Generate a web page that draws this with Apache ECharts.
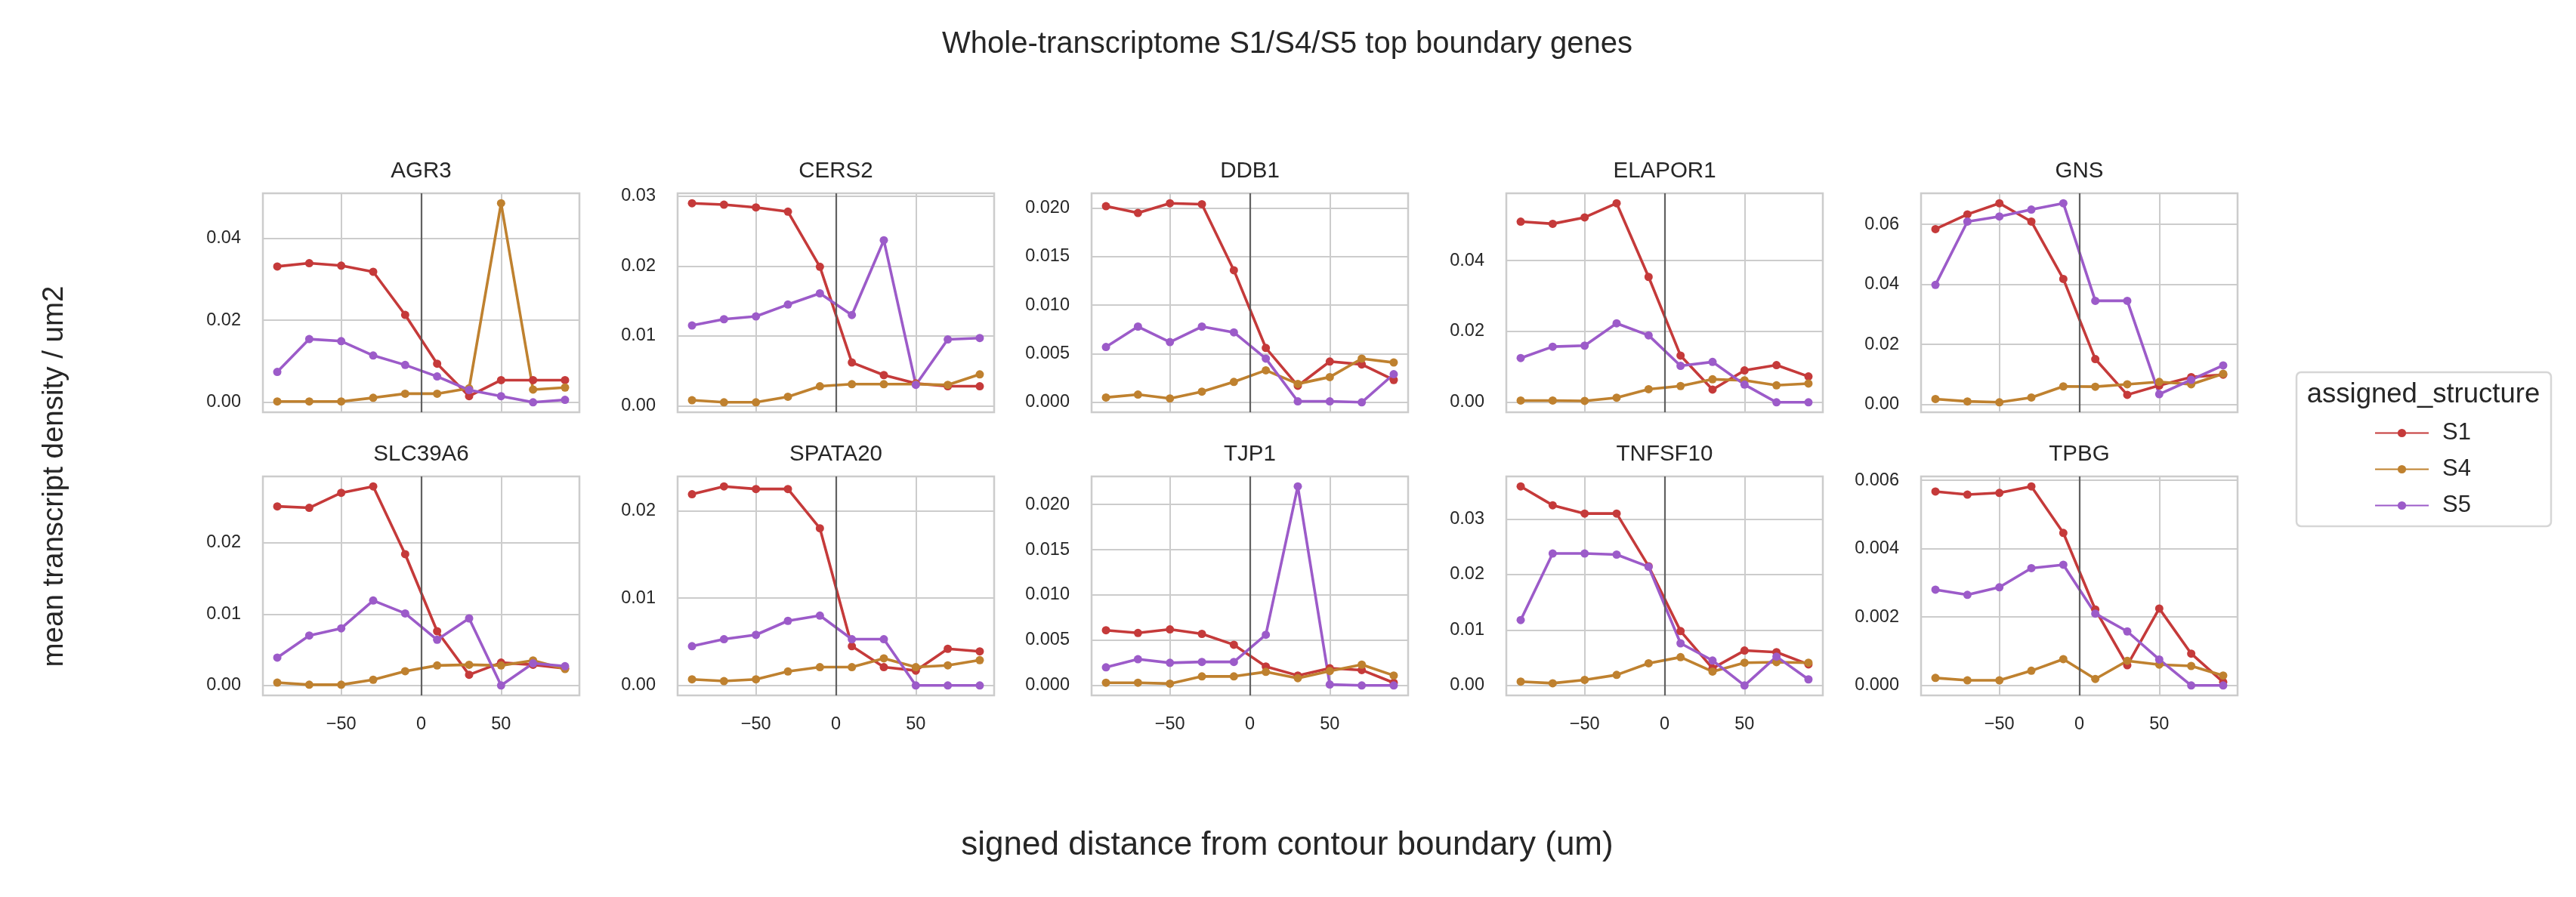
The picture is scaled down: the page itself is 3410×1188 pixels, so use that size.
<!DOCTYPE html>
<html>
<head>
<meta charset="utf-8">
<script src="https://cdn.jsdelivr.net/npm/echarts@6/dist/echarts.min.js"></script>
<style>
html, body { margin: 0; padding: 0; background: #fff; }
#chart { width: 3410px; height: 1188px; }
</style>
</head>
<body>
<div id="chart"></div>
<script>
// genes, one panel each
var genes = ['AGR3', 'CERS2', 'DDB1', 'ELAPOR1', 'GNS', 'SLC39A6', 'SPATA20', 'TJP1', 'TNFSF10', 'TPBG'];
var distances = [-90, -70, -50, -30, -10, 10, 30, 50, 70, 90];
var xTicks = [-50, 0, 50];
var yStep = [0.02, 0.01, 0.005, 0.02, 0.02, 0.01, 0.01, 0.005, 0.01, 0.002];
var structures = ['S1', 'S4', 'S5'];

// mean transcript density, one row per gene
var s1Density = [
    [0.0331, 0.0339, 0.0333, 0.0318, 0.0213, 0.0094, 0.0015, 0.0054, 0.0054, 0.0054],
    [0.0290, 0.0288, 0.0284, 0.0278, 0.0199, 0.0062, 0.0044, 0.0032, 0.0028, 0.0028],
    [0.0202, 0.0195, 0.0205, 0.0204, 0.0136, 0.0056, 0.0017, 0.0042, 0.0039, 0.0023],
    [0.0510, 0.0504, 0.0522, 0.0562, 0.0354, 0.0132, 0.0036, 0.0090, 0.0105, 0.0073],
    [0.0584, 0.0633, 0.0670, 0.0609, 0.0418, 0.0151, 0.0032, 0.0063, 0.0091, 0.0099],
    [0.0251, 0.0249, 0.0270, 0.0279, 0.0184, 0.0076, 0.0015, 0.0032, 0.0029, 0.0024],
    [0.0219, 0.0228, 0.0225, 0.0225, 0.0180, 0.0045, 0.0021, 0.0017, 0.0042, 0.0039],
    [0.0061, 0.0058, 0.0062, 0.0057, 0.0045, 0.0021, 0.0011, 0.0019, 0.0017, 0.0003],
    [0.0359, 0.0325, 0.0310, 0.0310, 0.0215, 0.0098, 0.0031, 0.0063, 0.0060, 0.0038],
    [0.00567, 0.00558, 0.00563, 0.00582, 0.00446, 0.00222, 0.00059, 0.00225, 0.00093, 0.00010]
];
var s4Density = [
    [0.0002, 0.0002, 0.0002, 0.0011, 0.0021, 0.0021, 0.0034, 0.0485, 0.0031, 0.0036],
    [0.0008, 0.0005, 0.0005, 0.0013, 0.0028, 0.0031, 0.0031, 0.0031, 0.0030, 0.0045],
    [0.0005, 0.0008, 0.0004, 0.0011, 0.0021, 0.0033, 0.0019, 0.0026, 0.0045, 0.0041],
    [0.0005, 0.0005, 0.0004, 0.0013, 0.0037, 0.0046, 0.0065, 0.0062, 0.0048, 0.0053],
    [0.0018, 0.0010, 0.0007, 0.0023, 0.0060, 0.0059, 0.0067, 0.0075, 0.0067, 0.0102],
    [0.0004, 0.0001, 0.0001, 0.0008, 0.0020, 0.0028, 0.0029, 0.0028, 0.0035, 0.0023],
    [0.0007, 0.0005, 0.0007, 0.0016, 0.0021, 0.0021, 0.0031, 0.0021, 0.0023, 0.0029],
    [0.0003, 0.0003, 0.0002, 0.0010, 0.0010, 0.0015, 0.0008, 0.0016, 0.0023, 0.0011],
    [0.0007, 0.0004, 0.0010, 0.0019, 0.0040, 0.0051, 0.0025, 0.0041, 0.0042, 0.0041],
    [0.00022, 0.00015, 0.00015, 0.00043, 0.00077, 0.00019, 0.00072, 0.00061, 0.00057, 0.00029]
];
var s5Density = [
    [0.0074, 0.0154, 0.0149, 0.0114, 0.0091, 0.0063, 0.0030, 0.0015, 0.0000, 0.0006],
    [0.0115, 0.0124, 0.0128, 0.0145, 0.0161, 0.0130, 0.0237, 0.0030, 0.0095, 0.0097],
    [0.0057, 0.0078, 0.0062, 0.0078, 0.0072, 0.0045, 0.0001, 0.0001, 0.0000, 0.0029],
    [0.0125, 0.0157, 0.0160, 0.0223, 0.0189, 0.0103, 0.0114, 0.0050, 0.0000, 0.0000],
    [0.0398, 0.0609, 0.0626, 0.0649, 0.0670, 0.0345, 0.0345, 0.0034, 0.0082, 0.0130],
    [0.0039, 0.0070, 0.0080, 0.0119, 0.0101, 0.0064, 0.0094, 0.0000, 0.0031, 0.0027],
    [0.0045, 0.0053, 0.0058, 0.0074, 0.0080, 0.0053, 0.0053, 0.0000, 0.0000, 0.0000],
    [0.0020, 0.0029, 0.0025, 0.0026, 0.0026, 0.0056, 0.0220, 0.0001, 0.0000, 0.0000],
    [0.0118, 0.0238, 0.0238, 0.0236, 0.0214, 0.0076, 0.0045, 0.0000, 0.0052, 0.0011],
    [0.00280, 0.00265, 0.00287, 0.00343, 0.00353, 0.00210, 0.00158, 0.00076, 0.00000, 0.00000]
];

var colors = ['#c53a3a', '#bf812f', '#9c5bc9'];
var fontFamily = '"Liberation Sans", Arial, sans-serif';
var textColor = '#262626';

var colLeft = [348, 897, 1445, 1994, 2543];
var rowTop = [256, 631];
var panelW = 419, panelH = 290;

var myChart = echarts.init(document.getElementById('chart'));

var grids = [], xAxes = [], yAxes = [], series = [];
var graphics = [];

genes.forEach(function(gene, g) {
    var row = Math.floor(g / 5), col = g % 5;
    var sets = [s1Density[g], s4Density[g], s5Density[g]];

    // 和 matplotlib 一样留 5% 边距
    var lo = Infinity, hi = -Infinity;
    sets.forEach(function(arr) {
        arr.forEach(function(v) { lo = Math.min(lo, v); hi = Math.max(hi, v); });
    });
    var pad = (hi - lo) * 0.05;
    var step = yStep[g];
    var decimals = Math.max(0, -Math.floor(Math.log10(step) + 1e-9));
    var yTicks = [];
    for (var k = 0; k * step <= hi + pad + 1e-12; k++) {
        yTicks.push(Math.round(k * step * 1e6) / 1e6);
    }

    grids.push({
        left: colLeft[col], top: rowTop[row], width: panelW, height: panelH,
        show: true, backgroundColor: '#fff', borderColor: '#cccccc', borderWidth: 2.5
    });
    xAxes.push({
        type: 'value', gridIndex: g, min: -99, max: 99,
        axisLine: { show: false },
        axisTick: { show: false, customValues: xTicks },
        splitLine: { show: true, lineStyle: { color: '#cccccc', width: 2 } },
        axisLabel: {
            show: row === 1, customValues: xTicks, margin: 27,
            fontSize: 23.5, color: textColor, fontFamily: fontFamily,
            formatter: function(v) { return v < 0 ? '\u2212' + (-v) : String(v); }
        }
    });
    yAxes.push({
        type: 'value', gridIndex: g, min: lo - pad, max: hi + pad,
        axisLine: { show: false },
        axisTick: { show: false, customValues: yTicks },
        splitLine: { show: true, lineStyle: { color: '#cccccc', width: 2 } },
        axisLabel: {
            customValues: yTicks, margin: 29,
            fontSize: 23.5, color: textColor, fontFamily: fontFamily,
            formatter: function(v) { return v.toFixed(decimals); }
        }
    });

    sets.forEach(function(arr, s) {
        var item = {
            type: 'line', name: structures[s], xAxisIndex: g, yAxisIndex: g,
            data: distances.map(function(x, i) { return [x, arr[i]]; }),
            symbol: 'circle', symbolSize: 11, showSymbol: true,
            lineStyle: { color: colors[s], width: 3.6 },
            itemStyle: { color: colors[s] },
            emphasis: { disabled: true }
        };
        if (s === 0) {
            item.markLine = {
                silent: true, symbol: ['none', 'none'], label: { show: false },
                lineStyle: { color: '#555', width: 2.2, type: 'solid', opacity: 0.9 },
                data: [{ xAxis: 0 }]
            };
        }
        series.push(item);
    });

    graphics.push({
        type: 'text', x: colLeft[col] + panelW / 2, y: rowTop[row] - 29,
        style: { text: gene, fontSize: 29.5, fontFamily: fontFamily, fill: textColor,
                 textAlign: 'center', textVerticalAlign: 'middle' }
    });
});

// 标题、坐标轴名称、图例框
graphics.push({
    type: 'text', x: 1704, y: 59,
    style: { text: 'Whole-transcriptome S1/S4/S5 top boundary genes', fontSize: 40,
             fontFamily: fontFamily, fill: textColor, textAlign: 'center', textVerticalAlign: 'middle' }
});
graphics.push({
    type: 'text', x: 1704, y: 1120,
    style: { text: 'signed distance from contour boundary (um)', fontSize: 44,
             fontFamily: fontFamily, fill: textColor, textAlign: 'center', textVerticalAlign: 'middle' }
});
graphics.push({
    type: 'text', x: 72, y: 631, rotation: Math.PI / 2,
    style: { text: 'mean transcript density / um2', fontSize: 38.5,
             fontFamily: fontFamily, fill: textColor, textAlign: 'center', textVerticalAlign: 'middle' }
});
graphics.push({
    type: 'rect', z: -1,
    shape: { x: 3040, y: 493, width: 337, height: 204, r: 6 },
    style: { fill: '#fff', stroke: '#d6d6d6', lineWidth: 2.5 }
});
graphics.push({
    type: 'text', x: 3208, y: 523,
    style: { text: 'assigned_structure', fontSize: 36.5, fontFamily: fontFamily, fill: textColor,
             textAlign: 'center', textVerticalAlign: 'middle' }
});

var option = {
    animation: false,
    backgroundColor: '#fff',
    grid: grids,
    xAxis: xAxes,
    yAxis: yAxes,
    series: series,
    legend: {
        data: structures,
        orient: 'vertical',
        left: 3138, top: 553,
        itemWidth: 71, itemHeight: 14, itemGap: 17,
        textStyle: { fontSize: 31, color: textColor, fontFamily: fontFamily,
                     lineHeight: 31, padding: [0, 0, 0, 13] },
        selectedMode: false
    },
    graphic: graphics
};

myChart.setOption(option);
</script>
</body>
</html>
